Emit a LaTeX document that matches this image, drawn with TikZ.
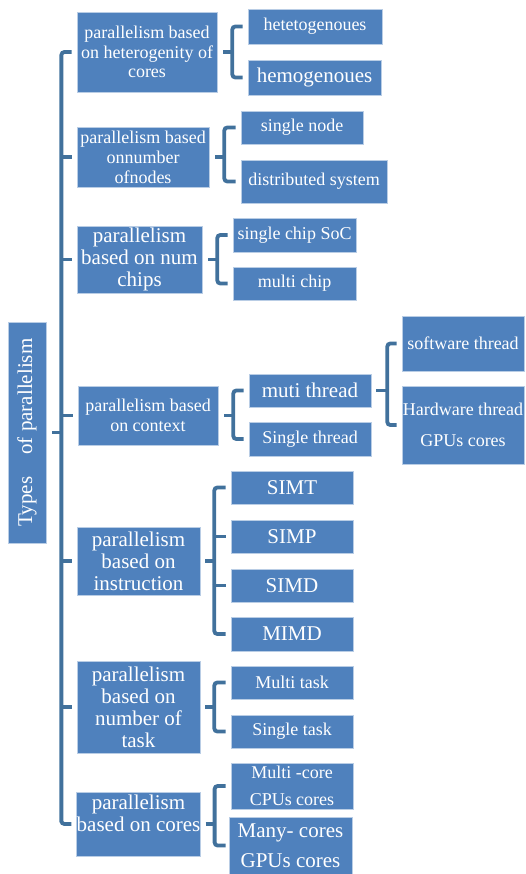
\documentclass[tikz,border=0pt]{standalone}
\usepackage{fontspec}
\setmainfont{Liberation Serif}
\definecolor{boxblue}{HTML}{4F81BD}
\definecolor{boxedge}{HTML}{B9CDE5}
\definecolor{linkblue}{HTML}{41719C}
\tikzset{
  box/.style={rectangle, fill=boxblue, draw=boxedge, line width=0.6pt, inner sep=0pt,
    text=white, align=center},
  small/.style={font=\fontsize{18}{19.5}\selectfont},
  large/.style={font=\fontsize{21}{22}\selectfont},
  brace/.style={draw=linkblue, line width=3.8pt, rounded corners=3pt}
}
\begin{document}
\begin{tikzpicture}[x=1pt, y=-1pt]
\useasboundingbox (0,0) rectangle (525,874);
% root
\node[box, large, minimum width=38, minimum height=221] (root) at (27,432.5)
  {\rotatebox{90}{Types\hspace{22pt}of parallelism}};
% first level
\node[box, small, minimum width=140, minimum height=80] (hetero) at (147,52)
  {parallelism based\\on heterogenity of\\cores};
\node[box, small, font=\fontsize{18}{20}\selectfont, minimum width=132, minimum height=60] (nodes) at (143,157)
  {parallelism based\\onnumber\\ofnodes};
\node[box, large, minimum width=125, minimum height=67] (chips) at (139.5,259.5)
  {parallelism\\based on num\\chips};
\node[box, small, minimum width=140, minimum height=59] (context) at (148,415.5)
  {parallelism based\\on context};
\node[box, large, minimum width=123, minimum height=68] (instr) at (138.5,561)
  {parallelism\\based on\\instruction};
\node[box, large, minimum width=123, minimum height=92] (task) at (138.5,707)
  {parallelism\\based on\\number of\\task};
\node[box, large, minimum width=123, minimum height=64] (cores) at (138.5,824)
  {parallelism\\based on cores\\ \mbox{}};
% second level
\node[box, small, minimum width=134, minimum height=35] (heteg) at (315,26.5) {hetetogenoues};
\node[box, large, minimum width=133, minimum height=35] (homog) at (314.5,77.5) {hemogenoues};
\node[box, small, minimum width=122, minimum height=33] (single) at (302,127.5) {single node};
\node[box, small, minimum width=146, minimum height=43] (distr) at (314,181.5) {distributed system};
\node[box, small, minimum width=123, minimum height=34] (soc) at (294.5,235) {single chip SoC};
\node[box, small, minimum width=123, minimum height=33] (mchip) at (294.5,283.5) {multi chip};
\node[box, large, minimum width=122, minimum height=33] (multi) at (310,390.5) {muti thread};
\node[box, small, minimum width=122, minimum height=34] (sthread) at (310,439) {Single thread};
\node[box, small, minimum width=122, minimum height=55] (soft) at (463,343.5) {software thread};
\node[box, small, font=\fontsize{18}{31}\selectfont, minimum width=122, minimum height=78] (hard) at (463,425)
  {Hardware thread\\GPUs cores};
\node[box, large, minimum width=122, minimum height=33] (simt) at (292,487.5) {SIMT};
\node[box, large, minimum width=122, minimum height=33] (simp) at (292,536.5) {SIMP};
\node[box, large, minimum width=122, minimum height=33] (simd) at (292,585.5) {SIMD};
\node[box, large, minimum width=122, minimum height=34] (mimd) at (292,634) {MIMD};
\node[box, small, minimum width=122, minimum height=33] (mtask) at (292,682.5) {Multi task};
\node[box, small, minimum width=122, minimum height=33] (stask) at (292,731.5) {Single task};
\node[box, small, font=\fontsize{18}{27}\selectfont, minimum width=122, minimum height=46] (mcore) at (292,786)
  {Multi -core\\CPUs cores};
\node[box, large, font=\fontsize{21}{30}\selectfont, minimum width=123, minimum height=57] (manyc) at (290.5,845.5)
  {Many- cores\\GPUs cores};
% trunk
\draw[brace] ([xshift=-5]hetero.west) -| ([xshift=-15]cores.west) |- ([xshift=-5]cores.west);
\draw[brace] ([xshift=-16]nodes.west) -- ([xshift=-5]nodes.west);
\draw[brace] ([xshift=-16]chips.west) -- ([xshift=-5]chips.west);
\draw[brace] ([xshift=-16]context.west) -- ([xshift=-5]context.west);
\draw[brace] ([xshift=-16]instr.west) -- ([xshift=-5]instr.west);
\draw[brace] ([xshift=-16]task.west) -- ([xshift=-5]task.west);
\draw[brace] ([xshift=6]root.east) -- ([xshift=17]root.east);
% groups
\draw[brace] ([xshift=-5]heteg.west) -| ([xshift=15]hetero.east) |- ([xshift=-5]homog.west);
\draw[brace] ([xshift=6]hetero.east) -- ([xshift=15]hetero.east);
\draw[brace] ([xshift=-5]single.west) -| ([xshift=15]nodes.east) |- ([xshift=-5]distr.west);
\draw[brace] ([xshift=6]nodes.east) -- ([xshift=15]nodes.east);
\draw[brace] ([xshift=-5]soc.west) -| ([xshift=15]chips.east) |- ([xshift=-5]mchip.west);
\draw[brace] ([xshift=6]chips.east) -- ([xshift=15]chips.east);
\draw[brace] ([xshift=-5]multi.west) -| ([xshift=15]context.east) |- ([xshift=-5]sthread.west);
\draw[brace] ([xshift=6]context.east) -- ([xshift=15]context.east);
\draw[brace] ([xshift=-5]soft.west) -| ([xshift=16]multi.east) |- ([xshift=-5]hard.west);
\draw[brace] ([xshift=5]multi.east) -- ([xshift=16]multi.east);
\draw[brace] ([xshift=-5]simt.west) -| ([xshift=14]instr.east) |- ([xshift=-5]mimd.west);
\draw[brace] ([xshift=-18]simp.west) -- ([xshift=-5]simp.west);
\draw[brace] ([xshift=-18]simd.west) -- ([xshift=-5]simd.west);
\draw[brace] ([xshift=5]instr.east) -- ([xshift=14]instr.east);
\draw[brace] ([xshift=-5]mtask.west) -| ([xshift=14]task.east) |- ([xshift=-5]stask.west);
\draw[brace] ([xshift=5]task.east) -- ([xshift=14]task.east);
\draw[brace] ([xshift=-5]mcore.west) -| ([xshift=14]cores.east) |- ([xshift=-3]manyc.west);
\draw[brace] ([xshift=5]cores.east) -- ([xshift=14]cores.east);
\end{tikzpicture}
\end{document}
